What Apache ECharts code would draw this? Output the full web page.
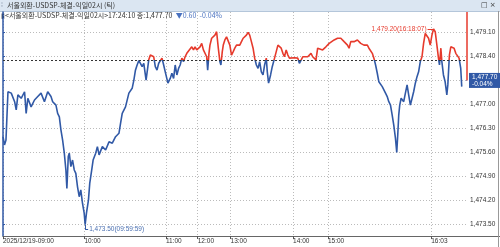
<!DOCTYPE html>
<html><head><meta charset="utf-8">
<script src="https://cdn.jsdelivr.net/npm/echarts@6/dist/echarts.min.js"></script>
<style>html,body{margin:0;padding:0;background:#fff;overflow:hidden}#c{width:500px;height:247px}</style>
</head><body><div id="c"></div>
<script>
// trade-sequence position (tick index scale) and price
const seqX = [0,1.5,3,5,8.3,11.7,13.3,15,18.3,21.7,23.3,25,28.3,31.7,35,38.3,41.7,45,48.3,50,53.3,55,56.7,58.3,60,61.7,63.3,64.3,65.7,66.7,68.3,70,71.7,73.3,75,76.7,78.3,80,81.7,82.7,84,86,87.3,89.3,90.7,93.3,95,96.7,100,103.3,106.7,110,113.3,116.7,118.3,120,123.3,126.7,130,131.7,133.3,135,136.7,138.3,140,141.7,144,146.7,148.3,151.7,153.3,155,156.7,160,161.7,163.3,166,168.3,170,171.7,173.3,175,176.7,178.3,180,181.7,183.3,185,186.7,190,191.7,193.3,195,196.7,198.3,200,201.7,203.3,205,206,207.3,208.3,210,211.7,213.3,215,216.7,218.3,219.3,220.7,221.7,223.3,225,226.7,228.3,230,231.7,233.3,235,236.7,238.3,240,241.7,243.3,245,246.7,248.3,250,251.7,253.3,255,256.7,258.3,260,261.7,263.3,265,266,267.3,269.3,271,273.3,275,276.7,278.3,280,281.7,283.3,285,286.7,288.3,290,293.3,296.7,298.3,300,301.7,303.3,306.7,310,311.7,313.3,315,316.7,318.3,321.7,325,328.3,330,333.3,336.7,338.3,340,341.7,343.3,345,346.7,348.3,350,351.7,353.3,355,356.7,358.3,360,361.7,363.3,365,366.7,368.3,370,371.7,373.3,375,376.7,378.3,380,381.7,383.3,385,386.7,388.3,390,391.7,393.3,395,396.3,397.3,398.3,399.3,400.7,401.7,403.3,405,406.7,408.3,410,411.7,413.3,415,416.7,418.3,420,421.7,423.3,425,426.7,428.3,430,431.7,433.3,435,436.7,438.3,439.3,440.7,441.7,443.3,445,446.7,447.7,449.3,450.7,452.7,454,455.7,457.3,459,460.7,461.7];
const price = [1476.06,1475.82,1475.96,1477.37,1477.33,1477.08,1476.84,1477.28,1477.18,1477.37,1476.74,1477.18,1476.93,1477.13,1477.23,1477.33,1477.08,1477.37,1477.23,1477.08,1476.98,1476.74,1476.64,1476.26,1475.96,1475.58,1475.09,1474.55,1475.48,1475.58,1475.19,1475.38,1475.09,1474.99,1474.60,1474.31,1474.51,1474.12,1473.83,1473.50,1473.83,1474.21,1474.70,1475.09,1475.38,1475.58,1475.77,1475.53,1475.77,1475.67,1475.91,1475.87,1476.06,1476.16,1476.45,1476.74,1476.93,1477.33,1477.47,1477.71,1478.00,1478.15,1478.28,1478.20,1478.10,1478.20,1477.71,1478.30,1478.44,1478.39,1478.10,1478.00,1478.20,1478.35,1478.15,1477.95,1477.62,1477.76,1477.91,1477.76,1478.15,1477.86,1478.05,1478.15,1478.35,1478.25,1478.39,1478.49,1478.54,1478.68,1478.59,1478.68,1478.59,1478.64,1478.68,1478.78,1478.59,1478.54,1478.39,1478.00,1478.49,1478.73,1478.93,1478.97,1479.02,1479.12,1478.64,1478.25,1478.15,1478.54,1478.73,1478.88,1478.97,1479.02,1478.73,1478.44,1478.54,1478.64,1478.73,1478.78,1478.73,1478.83,1478.93,1478.97,1479.02,1479.10,1479.02,1478.83,1478.64,1478.35,1478.15,1478.05,1478.25,1477.95,1477.86,1478.15,1478.35,1477.95,1477.62,1477.86,1478.10,1478.35,1478.54,1478.73,1478.78,1478.64,1478.49,1478.39,1478.59,1478.44,1478.35,1478.39,1478.36,1478.35,1478.20,1478.25,1478.39,1478.44,1478.39,1478.49,1478.39,1478.35,1478.30,1478.64,1478.68,1478.59,1478.68,1478.78,1478.78,1478.88,1478.93,1478.97,1478.93,1478.88,1478.83,1478.83,1478.73,1478.64,1478.83,1478.88,1478.83,1478.78,1478.88,1478.83,1478.78,1478.78,1478.73,1478.78,1478.73,1478.64,1478.59,1478.49,1478.35,1478.15,1477.91,1477.66,1477.62,1477.52,1477.47,1477.33,1477.23,1477.08,1476.98,1476.69,1476.40,1476.01,1475.60,1476.11,1476.69,1476.98,1477.18,1477.23,1477.08,1477.33,1477.57,1477.28,1476.98,1477.18,1477.37,1477.62,1477.81,1477.95,1478.25,1478.39,1478.78,1479.07,1479.12,1478.93,1478.73,1479.02,1479.20,1479.12,1478.73,1478.35,1478.15,1478.64,1478.25,1477.86,1477.66,1477.28,1477.57,1478.44,1478.68,1478.64,1478.64,1478.49,1478.44,1478.35,1478.05,1477.52];

const xTickPos = [0, 82, 164, 196, 229, 292, 327, 431];
const xTickLabels = ['2025/12/19-09:00', '10:00', '11:00', '12:00', '13:00', '14:00', '15:00', '16:03'];
const yTicks = [1473.5, 1474.2, 1474.9, 1475.6, 1476.3, 1477.0, 1477.7, 1478.4, 1479.1];
const prevClose = 1478.30;
const lastPrice = 1477.70;
const changeAbs = '0.60';
const changePct = '-0.04%';
const lastTime = '17:24:10';
const minTime = '09:59:59';
const maxTime = '16:18:07';
const titleText = '서울외환-USDSP-체결-익일02시';
const xMax = 467;
const yMin = 1473.165, yMax = 1479.695;

const BLUE = '#3159a6', RED = '#e63a2c';
const fmt = v => {
  const s = Number(v).toFixed(2).split('.');
  return s[0].replace(/\B(?=(\d{3})+(?!\d))/g, ',') + '.' + s[1];
};

let iMax = 0, iMin = 0;
price.forEach((p, i) => { if (p > price[iMax]) iMax = i; if (p < price[iMin]) iMin = i; });
const maxX = seqX[iMax], maxV = price[iMax], minX = seqX[iMin], minV = price[iMin];

const W = 500, H = 247;
const chart = echarts.init(document.getElementById('c'), null, {renderer: 'canvas', width: W, height: H});
const FONT = 'Liberation Sans';
const lineData = seqX.map((x, i) => [x, price[i]]);
chart.setOption({
  animation: false,
  backgroundColor: '#fff',
  grid: {left: 0, right: 33, top: 12, bottom: 11, containLabel: false},
  xAxis: {
    type: 'value', min: 0, max: xMax,
    axisLine: {show: true, onZero: false, lineStyle: {color: '#666', width: 1}},
    axisTick: {show: true, customValues: xTickPos, length: 3, lineStyle: {color: '#555'}},
    axisLabel: {customValues: xTickPos, formatter: v => xTickLabels[xTickPos.indexOf(v)] || '',
      align: 'left', fontSize: 6.5, color: '#333', margin: 2, fontFamily: FONT},
    splitLine: {show: true, lineStyle: {type: [1, 2], color: '#bbb', width: 1}}
  },
  yAxis: {
    type: 'value', position: 'right', min: yMin, max: yMax,
    axisLine: {show: true, lineStyle: {color: BLUE, width: 1.5}},
    axisTick: {show: true, customValues: yTicks, length: 2, lineStyle: {color: BLUE}},
    axisLabel: {customValues: yTicks, formatter: v => fmt(v), fontSize: 6.5, color: '#333', margin: 3, fontFamily: FONT},
    splitLine: {show: true, lineStyle: {type: [1, 2], color: '#bbb', width: 1}}
  },
  series: [{
    type: 'line',
    data: lineData,
    showSymbol: false, symbol: 'none', clip: false,
    lineStyle: {width: 1.6, color: BLUE},
    markLine: {
      silent: true, symbol: ['none', 'none'], animation: false,
      data: [
        {yAxis: prevClose, lineStyle: {type: [2, 2], color: '#333', width: 1}, label: {show: false}},
        [{coord: [maxX - 6, maxV], lineStyle: {color: RED, width: 1, type: 'solid'},
          label: {show: true, position: 'start', distance: 1, formatter: fmt(maxV) + '(' + maxTime + ')',
            color: RED, fontSize: 6.5, fontFamily: FONT}},
         {coord: [maxX, maxV]}],
        [{coord: [minX, minV], lineStyle: {color: BLUE, width: 1, type: 'solid'}, label: {show: false}},
         {coord: [minX, minV - 0.15]}],
        [{coord: [minX, minV - 0.15], lineStyle: {color: BLUE, width: 1, type: 'solid'},
          label: {show: true, position: 'end', distance: 1, formatter: fmt(minV) + '(' + minTime + ')',
            color: '#4a6fb0', fontSize: 6.5, fontFamily: FONT}},
         {coord: [minX + 3, minV - 0.15]}],
        [{coord: [xMax, yMax], lineStyle: {color: RED, width: 1.5, type: 'solid'}, label: {show: false}},
         {coord: [xMax, lastPrice]}],
        [{coord: [xMax - 0.5, lastPrice], lineStyle: {color: BLUE, width: 1, type: 'solid'},
          label: {show: true, position: 'end', distance: 2, opacity: 1,
            formatter: fmt(lastPrice) + '\n' + changePct, color: '#fff', backgroundColor: BLUE,
            fontSize: 6.5, lineHeight: 7, padding: [1, 3, 0, 3], fontFamily: FONT}},
         {coord: [xMax, lastPrice]}]
      ]
    }
  }],
  graphic: [
    {type: 'rect', shape: {x: 0, y: 0, width: 500, height: 11}, style: {fill: '#dbe6f2'}, silent: true},
    {type: 'line', shape: {x1: 0, y1: 11.5, x2: 500, y2: 11.5}, style: {stroke: '#b4c6da', lineWidth: 1}, silent: true},
    {type: 'text', x: 1, y: 5.5, style: {text: '⁞', fontSize: 7, fill: '#8894a8', verticalAlign: 'middle'}},
    {type: 'text', x: 7, y: 5.5, style: {text: titleText + ' (틱)', fontSize: 7, fill: '#333',
      fontFamily: 'Noto Sans CJK KR', verticalAlign: 'middle'}},
    {type: 'text', x: 481, y: 5.5, style: {text: '□ ×', fontSize: 7, fill: '#333', fontFamily: 'DejaVu Sans', verticalAlign: 'middle'}},
    {type: 'text', x: 1, y: 15.5, style: {
      text: '{a|▮<' + titleText + '>' + lastTime + ' 종:' + fmt(lastPrice) + '} {b|▼' + changeAbs + '  ' + changePct + '}',
      verticalAlign: 'middle',
      rich: {
        a: {fontSize: 7, fill: '#333', fontFamily: 'Noto Sans CJK KR'},
        b: {fontSize: 7, fill: '#4a72c0', fontFamily: 'Noto Sans CJK KR'}
      }}},
    {type: 'line', shape: {x1: 467, y1: 236.5, x2: 500, y2: 236.5}, style: {stroke: '#666', lineWidth: 1}, silent: true},
    {type: 'line', shape: {x1: 498.5, y1: 11, x2: 498.5, y2: 247}, style: {stroke: '#999', lineWidth: 1}, silent: true}
  ]
});
// colour the price line red above the previous close and blue below it, split at the scale position of prevClose
const yPix = chart.convertToPixel({yAxisIndex: 0}, prevClose);
const p = Math.max(0, Math.min(1, yPix / H));
chart.setOption({series: [{
  lineStyle: {color: new echarts.graphic.LinearGradient(0, 0, 0, H, [
    {offset: 0, color: RED}, {offset: p, color: RED}, {offset: p, color: BLUE}, {offset: 1, color: BLUE}], true)}
}]});
</script></body></html>
